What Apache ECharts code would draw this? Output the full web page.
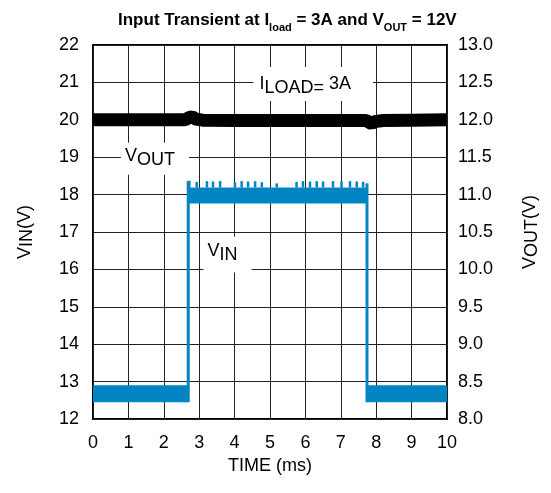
<!DOCTYPE html>
<html><head><meta charset="utf-8">
<script src="https://cdn.jsdelivr.net/npm/echarts@6/dist/echarts.min.js"></script>
<style>html,body{margin:0;padding:0;background:#fff}#c{width:551px;height:493px}</style>
</head><body><div id="c"></div>
<script>
// ---- data ----
const timeTicks = [0, 1, 2, 3, 4, 5, 6, 7, 8, 9, 10];
const vinTicks = [12, 13, 14, 15, 16, 17, 18, 19, 20, 21, 22];
const voutTicks = ['8.0', '8.5', '9.0', '9.5', '10.0', '10.5', '11.0', '11.5', '12.0', '12.5', '13.0'];

// VIN noise band: plateau segments (time start/end, band low/high)
const vinSegStart = [0, 2.68, 7.74];
const vinSegEnd = [2.68, 7.74, 10];
const vinSegLow = [12.45, 17.76, 12.45];
const vinSegHigh = [12.9, 18.19, 12.9];
// VIN step edges
const vinEdgeTime = [2.69, 7.74];
const vinEdgeFrom = [12.45, 18.3];
const vinEdgeTo = [18.36, 12.45];
// VIN spikes above the high plateau
const spikeTime = [2.72, 2.93, 3.22, 3.39, 3.59, 4.01, 4.2, 4.38, 4.58, 4.77, 5.19, 5.75, 5.93, 6.13, 6.32, 6.5, 6.78, 7.02, 7.26, 7.45, 7.63];
const spikeTop = [18.37, 18.34, 18.36, 18.35, 18.36, 18.33, 18.36, 18.35, 18.36, 18.33, 18.3, 18.34, 18.36, 18.35, 18.36, 18.35, 18.36, 18.35, 18.36, 18.35, 18.34];

// VOUT trace (right axis)
const voutTime = [0, 1, 2, 2.6, 2.72, 2.8, 2.9, 3.1, 4, 5, 6, 7, 7.72, 7.8, 7.87, 7.95, 8.2, 9, 10];
const voutValue = [12.0, 12.0, 12.0, 12.0, 12.03, 12.04, 12.01, 11.995, 11.99, 11.99, 11.99, 11.99, 11.99, 11.965, 11.95, 11.975, 11.99, 11.995, 12.0];

// annotation anchors [time, VIN-axis value]
const labelILoad = [6.22, 20.96];
const labelVout = [1.75, 18.96];
const labelVin = [3.80, 16.4];

const BLUE = '#0085c3';
const FONT = 'Liberation Sans, Arial, sans-serif';

const chart = echarts.init(document.getElementById('c'));

const subRich = (fs, off) => ({
  n: {fontSize: fs, fontFamily: FONT, color: '#000', lineHeight: 20, verticalAlign: 'top'},
  s: {fontSize: fs, fontFamily: FONT, color: '#000', lineHeight: 20 + off, verticalAlign: 'bottom'}
});

function textLabel(pos, text, pad) {
  return {
    type: 'scatter', yAxisIndex: 0, symbolSize: 1, itemStyle: {color: '#fff', opacity: 1},
    silent: true, z: 5,
    data: [pos],
    label: {
      show: true, position: 'inside', formatter: text, color: '#000', textBorderWidth: 0,
      backgroundColor: '#fff', padding: pad,
      rich: subRich(18, 2)
    }
  };
}

chart.setOption({
  animation: false,
  backgroundColor: '#fff',
  title: {
    text: '{b|Input Transient at I}{s|load}{b| = 3A and V}{s|OUT}{b| = 12V}',
    left: 113, top: 7,
    textStyle: {
      rich: {
        b: {fontSize: 17, fontWeight: 'bold', fontFamily: FONT, color: '#000', lineHeight: 20, verticalAlign: 'top'},
        s: {fontSize: 11, fontWeight: 'bold', fontFamily: FONT, color: '#000', lineHeight: 21, verticalAlign: 'bottom'}
      }
    }
  },
  grid: {left: 93, right: 104, top: 45, bottom: 74, show: true, borderColor: '#000', borderWidth: 2,
    backgroundColor: 'transparent', outerBoundsMode: 'none', containLabel: false},
  xAxis: {
    type: 'value', min: timeTicks[0], max: timeTicks[timeTicks.length - 1], interval: 1,
    name: 'TIME (ms)', nameLocation: 'middle', nameGap: 37,
    nameTextStyle: {fontSize: 18, fontFamily: FONT, color: '#000'},
    axisLine: {show: false}, axisTick: {show: false},
    axisLabel: {fontSize: 18, fontFamily: FONT, color: '#000', margin: 15,
      formatter: (v) => timeTicks.includes(v) ? String(v) : ''},
    splitLine: {show: true, lineStyle: {color: '#222', width: 1}}
  },
  yAxis: [{
    type: 'value', min: vinTicks[0], max: vinTicks[vinTicks.length - 1], interval: 1,
    name: '{n|V}{s|IN}{n|(V)}', nameLocation: 'middle', nameRotate: 90, nameGap: 57,
    nameTextStyle: {rich: subRich(18, 0)},
    axisLine: {show: false}, axisTick: {show: false},
    axisLabel: {fontSize: 18, fontFamily: FONT, color: '#000', margin: 14},
    splitLine: {show: true, lineStyle: {color: '#222', width: 1}}
  }, {
    type: 'value', min: 8, max: 13, interval: 0.5, position: 'right',
    name: '{n|V}{s|OUT}{n|(V)}', nameLocation: 'middle', nameRotate: 90, nameGap: 74,
    nameTextStyle: {rich: subRich(18, 0)},
    axisLine: {show: false}, axisTick: {show: false},
    axisLabel: {fontSize: 18, fontFamily: FONT, color: '#000', margin: 11,
      formatter: (v) => voutTicks[Math.round((v - 8) * 2)]},
    splitLine: {show: false}
  }],
  series: [
    {
      type: 'custom', yAxisIndex: 0, z: 3, silent: true,
      data: vinSegStart.map((s, i) => [s, vinSegEnd[i], vinSegLow[i], vinSegHigh[i]]),
      encode: {x: [0, 1], y: [2, 3]},
      renderItem: (params, api) => {
        const p0 = api.coord([api.value(0), api.value(3)]);
        const p1 = api.coord([api.value(1), api.value(2)]);
        return {type: 'rect', shape: {x: p0[0], y: p0[1], width: p1[0] - p0[0], height: p1[1] - p0[1]}, style: {fill: BLUE}};
      }
    },
    {
      type: 'custom', yAxisIndex: 0, z: 3, silent: true,
      data: vinEdgeTime.map((t, i) => [t, vinEdgeFrom[i], vinEdgeTo[i]]),
      encode: {x: 0, y: [1, 2]},
      renderItem: (params, api) => {
        const a = api.coord([api.value(0), api.value(1)]);
        const b = api.coord([api.value(0), api.value(2)]);
        return {type: 'line', shape: {x1: a[0], y1: a[1], x2: b[0], y2: b[1]}, style: {stroke: BLUE, lineWidth: 3}};
      }
    },
    {
      type: 'custom', yAxisIndex: 0, z: 3, silent: true,
      data: spikeTime.map((t, i) => [t, spikeTop[i]]),
      encode: {x: 0, y: 1},
      renderItem: (params, api) => {
        const a = api.coord([api.value(0), vinSegHigh[1]]);
        const b = api.coord([api.value(0), api.value(1)]);
        return {type: 'line', shape: {x1: a[0], y1: a[1], x2: b[0], y2: b[1]}, style: {stroke: BLUE, lineWidth: 2.5}};
      }
    },
    {
      type: 'line', yAxisIndex: 1, z: 4, silent: true, showSymbol: false, smooth: false,
      data: voutTime.map((t, i) => [t, voutValue[i]]),
      lineStyle: {color: '#000', width: 13}
    },
    textLabel(labelILoad, '{n|I}{s|LOAD= }{n|3A}', [8, 22, 4, 6]),
    textLabel(labelVout, '{n|V}{s|OUT}', [4, 14, 6, 4]),
    textLabel(labelVin, '{n|V}{s|IN}', [6, 14, 8, 4])
  ]
});
</script>
</body></html>
